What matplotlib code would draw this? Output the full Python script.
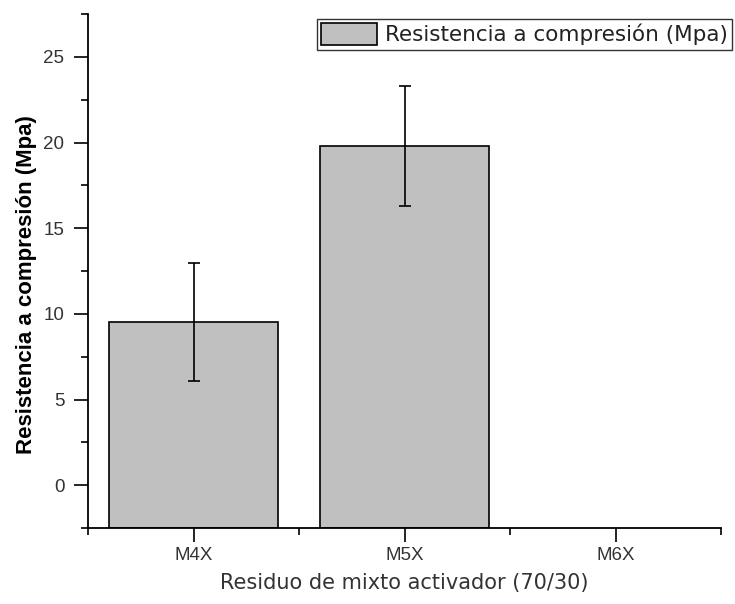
import matplotlib
matplotlib.use("Agg")
import matplotlib.pyplot as plt
from matplotlib.ticker import MultipleLocator, FixedLocator

# Compressive strength by mix
categories = ["M4X", "M5X", "M6X"]
strength = [9.52, 19.8, 0.0]
strength_err = [3.43, 3.5, 0.0]
legend_label = "Resistencia a compresión (Mpa)"
y_label = "Resistencia a compresión (Mpa)"
x_label = "Residuo de mixto activador (70/30)"

plt.rcParams["font.family"] = ["Liberation Sans", "DejaVu Sans"]

fig = plt.figure(figsize=(7.35, 6.04), dpi=100)
ax = fig.add_axes([88 / 735, 76 / 604, (721 - 88) / 735, (528 - 14) / 604])

ymin, ymax = -2.5, 27.5
x = list(range(1, len(categories) + 1))
heights = [v - ymin for v in strength]
bars = ax.bar(x, heights, bottom=ymin, width=0.8, color="#c0c0c0",
              edgecolor="black", linewidth=1.2, label=legend_label, zorder=2)
# No bar for an empty sample
for b, v in zip(bars, strength):
    if v == 0:
        b.set_visible(False)

for xi, v, e in zip(x, strength, strength_err):
    if e > 0:
        ax.errorbar(xi, v, yerr=e, fmt="none", ecolor="black",
                    elinewidth=1.2, capsize=4, capthick=1.2, zorder=3)

ax.set_xlim(0.5, 3.5)
ax.set_ylim(ymin, ymax)

ax.spines["top"].set_visible(False)
ax.spines["right"].set_visible(False)
for s in ("left", "bottom"):
    ax.spines[s].set_linewidth(1.3)

ax.set_xticks(x)
ax.set_xticklabels(categories)
ax.xaxis.set_minor_locator(FixedLocator([0.5, 1.5, 2.5, 3.5]))
ax.yaxis.set_major_locator(MultipleLocator(5))
ax.yaxis.set_minor_locator(MultipleLocator(2.5))
ax.tick_params(axis="both", which="major", direction="out", length=10,
               width=1.2, labelsize=13.5, labelcolor="#333333", pad=7)
ax.tick_params(axis="both", which="minor", direction="out", length=5,
               width=1.2)
ax.tick_params(axis="x", which="major", pad=4)

ax.set_ylabel(y_label, fontsize=16, fontweight="bold")
ax.yaxis.set_label_coords(-0.081, 0.4728)
ax.set_xlabel(x_label, fontsize=15, color="#333333", family="DejaVu Sans")
ax.xaxis.set_label_coords(0.5, -0.088)

leg = ax.legend(loc="upper left", bbox_to_anchor=(317 / 735, 1 - 19 / 604),
                bbox_transform=fig.transFigure,
                prop={"family": "DejaVu Sans", "size": 15.5},
                frameon=True, fancybox=False, edgecolor="black",
                handlelength=2.6, handleheight=1.15, handletextpad=0.34,
                borderpad=0.2, borderaxespad=0)
leg.get_frame().set_linewidth(1.0)
for t in leg.get_texts():
    t.set_color("#222222")

fig.savefig("out.png", dpi=100)
